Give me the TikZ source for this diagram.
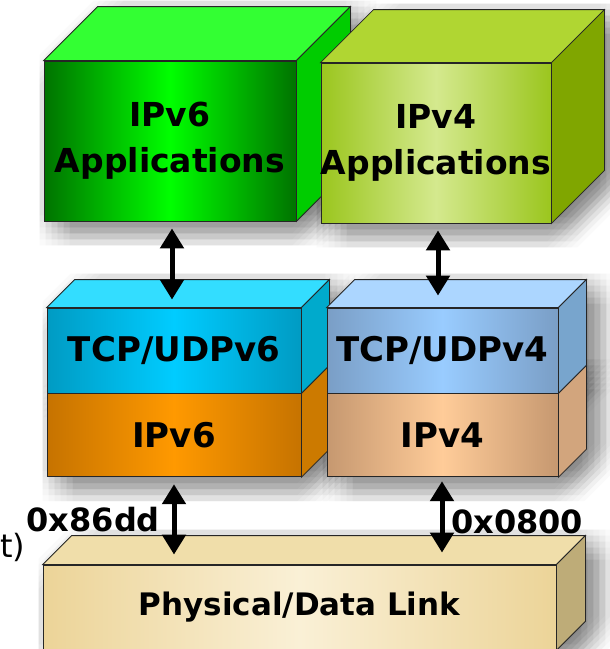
\documentclass[tikz,border=0pt]{standalone}
\usepackage{fontspec}
\setmainfont{DejaVu Sans}
\usetikzlibrary{arrows.meta,calc,positioning,backgrounds}

\definecolor{appsixedge}{RGB}{0,115,0}
\definecolor{appsixmid}{RGB}{0,255,0}
\definecolor{appsixtop}{RGB}{51,255,51}
\definecolor{appsixside}{RGB}{0,204,0}
\definecolor{appfouredge}{RGB}{155,198,30}
\definecolor{appfourmid}{RGB}{212,233,142}
\definecolor{appfourtop}{RGB}{176,214,50}
\definecolor{appfourside}{RGB}{128,166,0}
\definecolor{tcpsixedge}{RGB}{0,155,195}
\definecolor{tcpsixmid}{RGB}{0,204,255}
\definecolor{tcpsixtop}{RGB}{51,221,255}
\definecolor{tcpsixside}{RGB}{0,170,204}
\definecolor{tcpfouredge}{RGB}{122,158,198}
\definecolor{tcpfourmid}{RGB}{153,204,255}
\definecolor{tcpfourtop}{RGB}{172,214,255}
\definecolor{tcpfourside}{RGB}{120,165,205}
\definecolor{ipsixedge}{RGB}{198,115,0}
\definecolor{ipsixmid}{RGB}{255,153,0}
\definecolor{ipsixside}{RGB}{204,122,0}
\definecolor{ipfouredge}{RGB}{198,152,112}
\definecolor{ipfourmid}{RGB}{255,204,153}
\definecolor{ipfourside}{RGB}{210,165,125}
\definecolor{physedge}{RGB}{236,212,152}
\definecolor{physmid}{RGB}{250,240,214}
\definecolor{phystop}{RGB}{240,222,170}
\definecolor{physside}{RGB}{190,172,120}

% faces of a box whose front is the node #1, depth #2
\newcommand{\topface}[3]{\filldraw[boxline, fill=#3] (#1.north west) -- ++(#2,-#2) -- ($(#1.north east)+(#2,-#2)$) -- (#1.north east) -- cycle;}
\newcommand{\sideface}[3]{\filldraw[boxline, fill=#3] (#1.north east) -- ++(#2,-#2) -- ($(#1.south east)+(#2,-#2)$) -- (#1.south east) -- cycle;}
% outline of box #1 (depth #2) moved by (#3,#4), for the shadow
\newcommand{\shadowpath}[4]{\fill[shadowfill] ($(#1.south west)+(#3,#4)$) -- ($(#1.north west)+(#3,#4)$)
  -- ($(#1.north west)+(#3+#2,#4-#2)$) -- ($(#1.north east)+(#3+#2,#4-#2)$)
  -- ($(#1.south east)+(#3+#2,#4-#2)$) -- ($(#1.south east)+(#3,#4)$) -- cycle;}

\tikzset{
  boxline/.style={draw=black!85, line width=0.8pt},
  layerbox/.style={boxline, minimum height=85pt, inner sep=0pt, align=center,
    font=\bfseries\fontsize{34}{46}\selectfont},
  biarrow/.style={{Triangle[width=23pt,length=20pt]}-{Triangle[width=23pt,length=20pt]}, line width=5pt, black},
  hexlabel/.style={inner sep=0pt, font=\bfseries\fontsize{32}{38}\selectfont},
  shadowfill/.style={black, opacity=0.019}
}

\begin{document}
\begin{tikzpicture}[x=1pt,y=-1pt]
\useasboundingbox (0,0) rectangle (610,649);
% applications
\node[layerbox, minimum width=252pt, minimum height=160pt, font=\bfseries\fontsize{33}{46}\selectfont,
  left color=appsixedge, right color=appsixedge, middle color=appsixmid] (app6) at (170,141) {IPv6\\Applications};
\topface{app6}{54}{appsixtop}
\sideface{app6}{54}{appsixside}
\node[layerbox, minimum width=228pt, minimum height=160pt, font=\bfseries\fontsize{33}{46}\selectfont,
  left color=appfouredge, right color=appfouredge, middle color=appfourmid] (app4) at (436,143) {IPv4\\Applications};
\topface{app4}{53}{appfourtop}
\sideface{app4}{53}{appfourside}
% transport and network, v6
\node[layerbox, minimum width=254pt, left color=tcpsixedge, right color=tcpsixedge, middle color=tcpsixmid] (tcp6) at (174,350.5) {TCP/UDPv6};
\node[layerbox, minimum width=254pt, minimum height=83pt, below=0pt of tcp6,
  left color=ipsixedge, right color=ipsixedge, middle color=ipsixmid] (ip6) {IPv6};
\sideface{ip6}{28}{ipsixside}
\topface{tcp6}{28}{tcpsixtop}
\sideface{tcp6}{28}{tcpsixside}
% transport and network, v4
\node[layerbox, minimum width=231pt, left color=tcpfouredge, right color=tcpfouredge, middle color=tcpfourmid] (tcp4) at (442.5,350.5) {TCP/UDPv4};
\node[layerbox, minimum width=231pt, minimum height=83pt, below=0pt of tcp4,
  left color=ipfouredge, right color=ipfouredge, middle color=ipfourmid] (ip4) {IPv4};
\sideface{ip4}{28}{ipfourside}
\topface{tcp4}{28}{tcpfourtop}
\sideface{tcp4}{28}{tcpfourside}
% link layer
\node[layerbox, minimum width=513pt, font=\bfseries\fontsize{31}{40}\selectfont,
  left color=physedge, right color=physedge, middle color=physmid] (phys) at (299.5,607.5) {Physical/Data Link};
\topface{phys}{29}{phystop}
\sideface{phys}{29}{physside}

% soft shadows: many faint copies, spread out
\begin{scope}[on background layer]
\foreach \n/\d in {app6/54,app4/53,tcp6/28,ip6/28,tcp4/28,ip4/28,phys/29} {
  \foreach \sx in {-4,2,...,28} {
    \foreach \sy in {-6,0,...,26} {
      \shadowpath{\n}{\d}{\sx}{\sy}
    }
  }
}
\end{scope}

\node[font=\fontsize{32}{36}\selectfont, inner sep=0pt, anchor=base west] (cut) at (0,557) {t)};
\node[hexlabel, anchor=east] (hex6) at (160,520) {0x86dd};
\node[hexlabel, anchor=west] (hex4) at (451,522) {0x0800};

\draw[biarrow] ($(app6.south)+(2,7)$) -- ($(tcp6.north)+(-2,-8)$);
\draw[biarrow] ($(app4.south)+(2,7)$) -- ($(tcp4.north)+(-4.5,-12)$);
\draw[biarrow] ($(ip6.south)+(0,7)$) -- ($(ip6.south |- phys.north)+(0,-10)$);
\draw[biarrow] ($(ip4.south)+(-0.5,4)$) -- ($(ip4.south |- phys.north)+(-0.5,-12)$);
\end{tikzpicture}
\end{document}
